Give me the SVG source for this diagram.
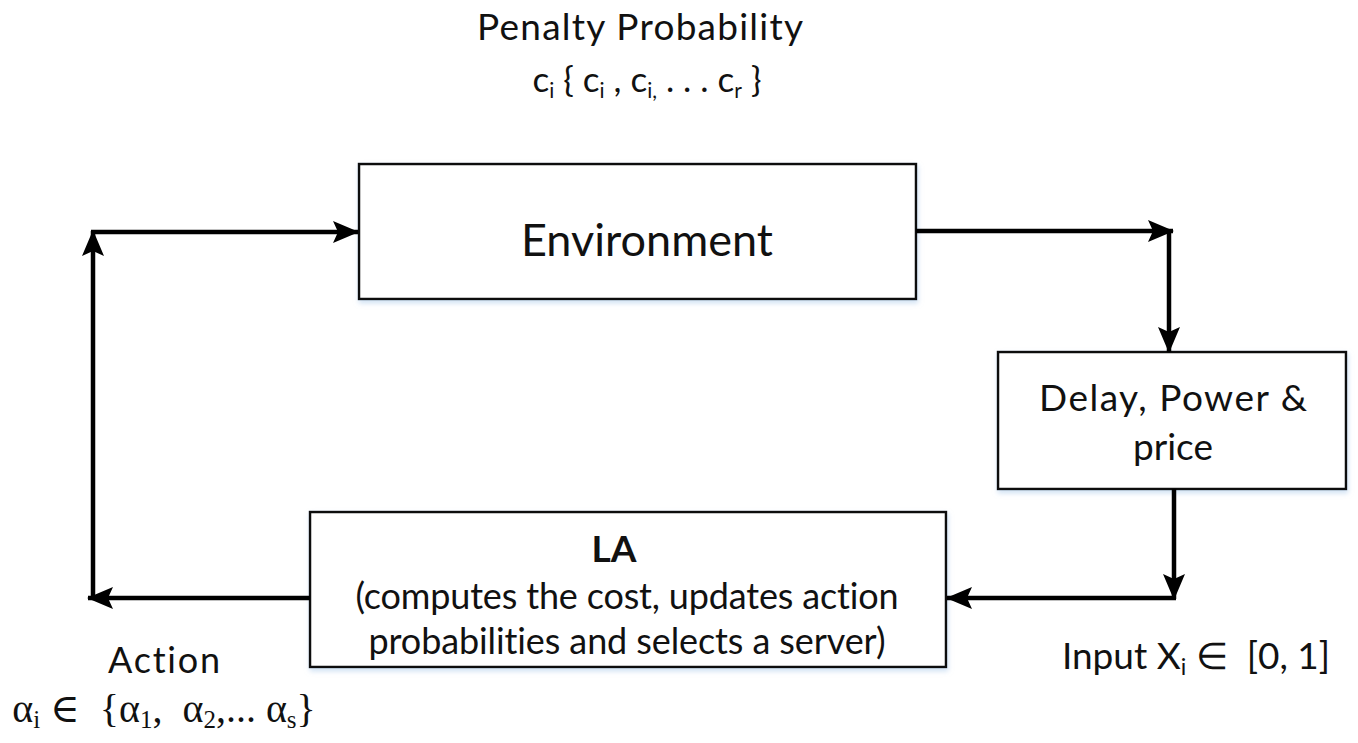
<svg xmlns="http://www.w3.org/2000/svg" width="1358" height="743" viewBox="0 0 1358 743">
  <defs>
    <style>
      .box { fill: #ffffff; stroke: #111111; stroke-width: 2.5; }
      .lbl { font-family: Lato, "Open Sans", sans-serif; fill: #111111; font-variant-ligatures: none; }
      .math { font-family: "Liberation Serif", "DejaVu Serif", serif; fill: #111111; }
      .wire { fill: none; stroke: #000000; stroke-width: 4.5; stroke-linecap: butt; stroke-linejoin: miter; }
    </style>
    <filter id="glow" x="-5%" y="-10%" width="110%" height="125%">
      <feGaussianBlur in="SourceAlpha" stdDeviation="2.5" result="b"/>
      <feOffset in="b" dx="1" dy="3" result="o"/>
      <feFlood flood-color="#a9c9ea" flood-opacity="0.55"/>
      <feComposite in2="o" operator="in" result="s"/>
      <feMerge>
        <feMergeNode in="s"/>
        <feMergeNode in="SourceGraphic"/>
      </feMerge>
    </filter>
    <marker id="head" viewBox="0 0 26 22" refX="25" refY="11" markerWidth="26" markerHeight="22" markerUnits="userSpaceOnUse" orient="auto">
      <path d="M0,0 L26,11 L0,22 L5,11 Z" fill="#000000"/>
    </marker>
  </defs>

  <rect width="1358" height="743" fill="#ffffff"/>

  <!-- annotation labels -->
  <g id="penalty-label">
    <text class="lbl" x="640" y="40" font-size="37" text-anchor="middle" textLength="326">Penalty Probability</text>
    <text class="lbl" x="647" y="92" font-size="35" text-anchor="middle" xml:space="preserve">c<tspan font-size="21" dy="6">i</tspan><tspan dy="-6"> { c</tspan><tspan font-size="21" dy="6">i</tspan><tspan dy="-6"> , c</tspan><tspan font-size="21" dy="6">i,</tspan><tspan dy="-6"> . . . c</tspan><tspan font-size="21" dy="6">r</tspan><tspan dy="-6"> }</tspan></text>
  </g>

  <g id="action-label">
    <text class="lbl" x="164" y="673" font-size="36" text-anchor="middle" textLength="112">Action</text>
    <text class="math" x="164" y="722" font-size="40" text-anchor="middle" xml:space="preserve">α<tspan font-size="25" dy="6">i</tspan><tspan dy="-6"> ∈  {α</tspan><tspan font-size="25" dy="6">1</tspan><tspan dy="-6">,  α</tspan><tspan font-size="25" dy="6">2</tspan><tspan dy="-6">,... α</tspan><tspan font-size="25" dy="6">s</tspan><tspan dy="-6">}</tspan></text>
  </g>

  <g id="input-label">
    <text class="lbl" x="1196" y="669" font-size="37" text-anchor="middle" xml:space="preserve">Input X<tspan font-size="23" dy="6">i</tspan><tspan dy="-6"> ∈  [0, 1]</tspan></text>
  </g>

  <!-- nodes -->
  <g id="environment">
    <rect class="box" x="359" y="164" width="557" height="135" filter="url(#glow)"/>
    <text class="lbl" x="647" y="256" font-size="45" text-anchor="middle" textLength="252">Environment</text>
  </g>

  <g id="delay-power-price">
    <rect class="box" x="998" y="352" width="348" height="137" filter="url(#glow)"/>
    <text class="lbl" x="1173" y="411" font-size="37" text-anchor="middle" textLength="268">Delay, Power &amp;</text>
    <text class="lbl" x="1173" y="460" font-size="37" text-anchor="middle">price</text>
  </g>

  <g id="la">
    <rect class="box" x="310" y="512" width="636" height="155" filter="url(#glow)"/>
    <text class="lbl" x="614" y="562" font-size="37" font-weight="bold" text-anchor="middle">LA</text>
    <text class="lbl" x="627" y="609" font-size="36" text-anchor="middle" textLength="543">(computes the cost, updates action</text>
    <text class="lbl" x="627" y="654" font-size="36" text-anchor="middle" textLength="517">probabilities and selects a server)</text>
  </g>

  <!-- connectors -->
  <g id="connectors">
    <path class="wire" d="M310,598 H88" marker-end="url(#head)"/>
    <path class="wire" d="M93,600 V231" marker-end="url(#head)"/>
    <path class="wire" d="M91,232 H358" marker-end="url(#head)"/>
    <path class="wire" d="M916,231 H1173" marker-end="url(#head)"/>
    <path class="wire" d="M1169,229 V352" marker-end="url(#head)"/>
    <path class="wire" d="M1174,489 V599" marker-end="url(#head)"/>
    <path class="wire" d="M1176,598 H947" marker-end="url(#head)"/>
  </g>
</svg>
